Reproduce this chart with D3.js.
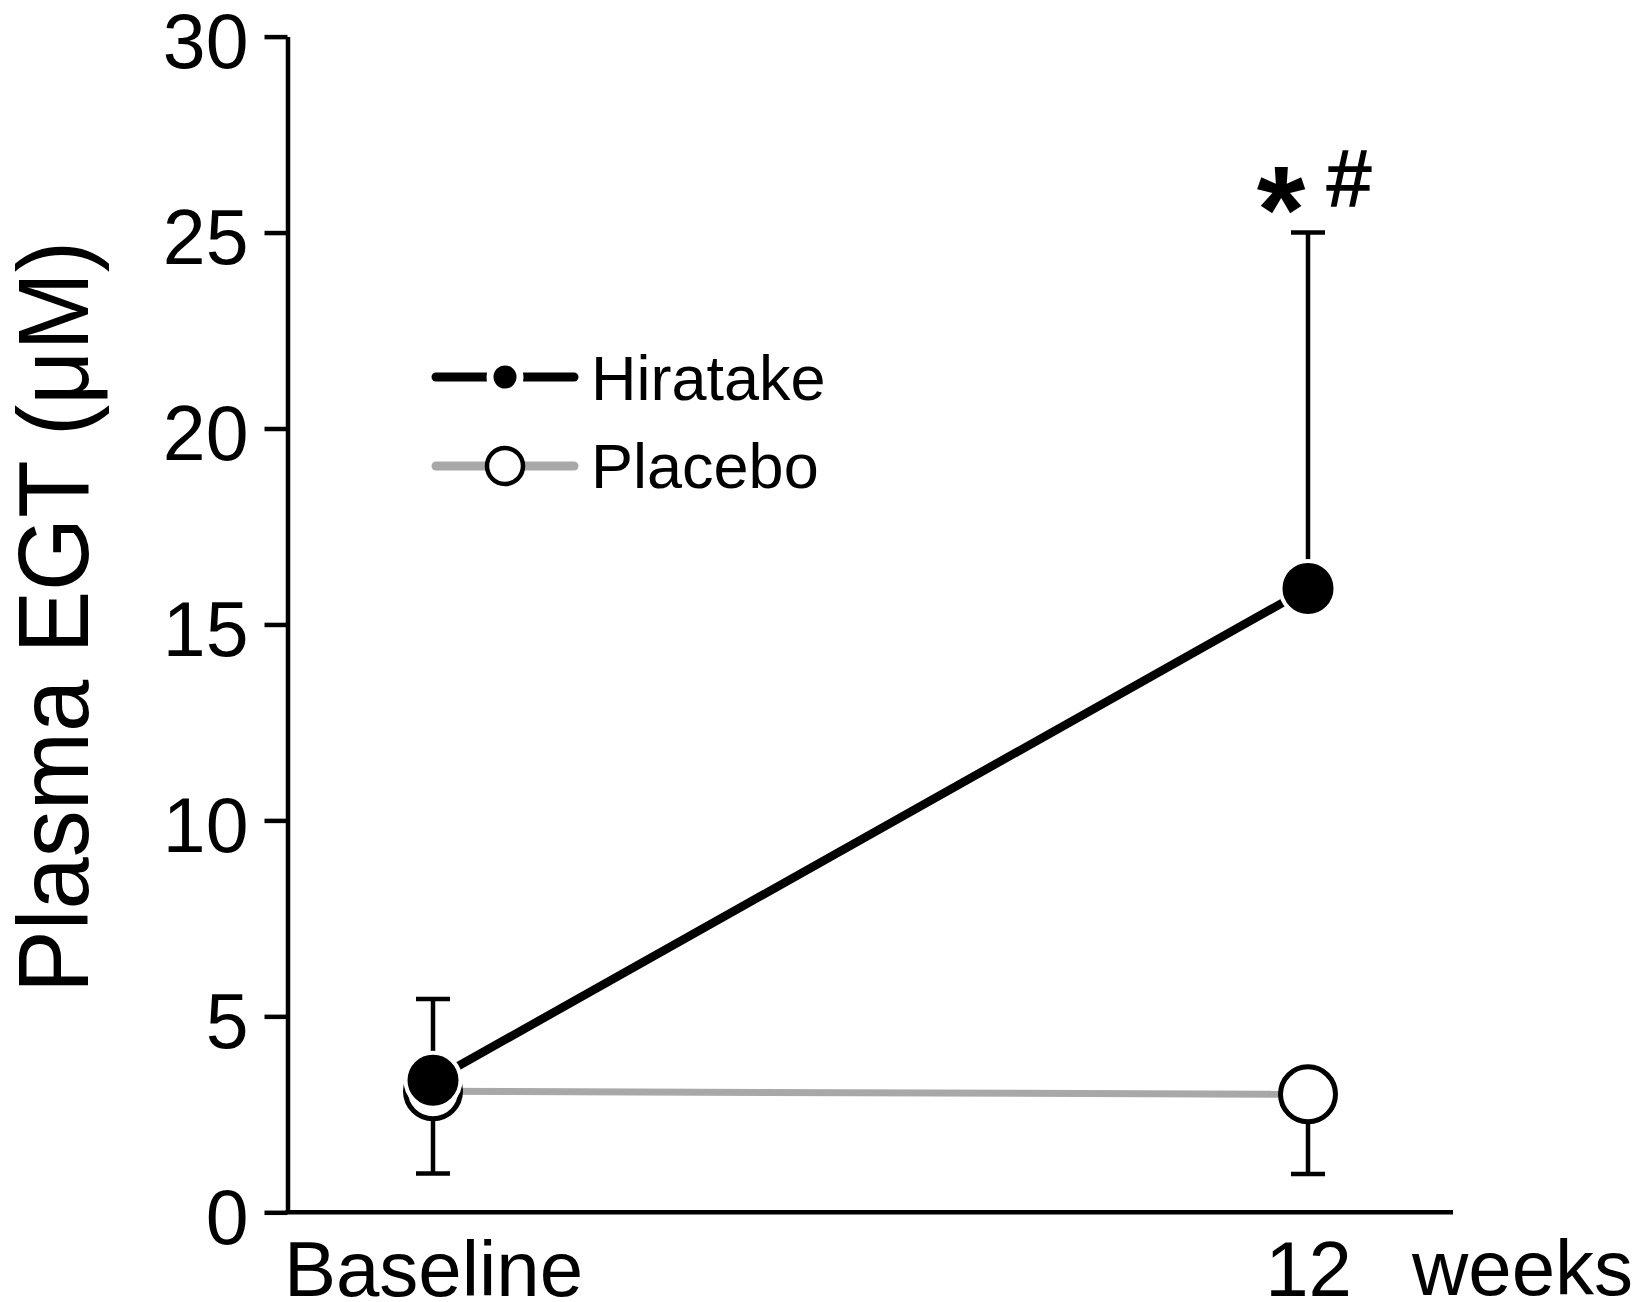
<!DOCTYPE html>
<html><head><meta charset="utf-8">
<script src="https://cdn.jsdelivr.net/npm/d3@7"></script>
<style>
html,body{margin:0;padding:0;background:#fff;}
svg{display:block;font-family:"Liberation Sans",Arial,Helvetica,sans-serif;}
</style></head>
<body>
<svg id="chart" width="1645" height="1302"></svg>
<script>
// ---- data ----
const categories = ["Baseline", "12"];
const yTicks = [0, 5, 10, 15, 20, 25, 30];
const seriesNames = ["Hiratake", "Placebo"];
const hiratakeMean = [3.37, 15.92];
const hiratakeUpperErr = [2.07, 9.08];   // drawn upward
const placeboMean = [3.09, 3.01];
const placeboLowerErr = [2.1, 2.03];     // drawn downward
const sigMarks = ["*", "#"];

// ---- layout ----
const svg = d3.select("#chart");
svg.append("rect").attr("width",1645).attr("height",1302).attr("fill","#fff");

const y = d3.scaleLinear().domain([0, 30]).range([1212.3, 36.6]);
const x = d3.scalePoint().domain(categories).range([433, 1308]);
const xAxisEnd = 1453;

// y axis
const yAxis = svg.append("g").attr("transform","translate(287.5,0)")
  .call(d3.axisLeft(y).tickValues(yTicks).tickSize(23).tickSizeOuter(0).tickPadding(16).tickFormat(d3.format("d")))
  .attr("font-size",77).attr("font-family","Liberation Sans, Arial, sans-serif");
yAxis.select(".domain").attr("stroke","#000").attr("stroke-width",4.5);
yAxis.selectAll(".tick line").attr("stroke","#000").attr("stroke-width",4.5);
yAxis.selectAll(".tick text").attr("fill","#000").attr("dy","0.4em");

// x axis
const xAxis = svg.append("g").attr("transform",`translate(0,${y(0)})`)
  .call(d3.axisBottom(x).tickSize(0).tickPadding(28))
  .attr("font-size",78).attr("font-family","Liberation Sans, Arial, sans-serif");
xAxis.select(".domain").remove();
xAxis.append("line").attr("x1",285.5).attr("x2",xAxisEnd).attr("y1",0).attr("y2",0).attr("stroke","#000").attr("stroke-width",4.5);
xAxis.selectAll(".tick text").attr("fill","#000");
svg.append("text").attr("x",1412).attr("y",1295).attr("font-size",78).attr("fill","#000").text("weeks");

// y label
svg.append("text")
  .attr("transform","translate(88,617) rotate(-90)")
  .attr("text-anchor","middle")
  .attr("font-size",101)
  .attr("textLength",752).attr("lengthAdjust","spacingAndGlyphs")
  .attr("fill","#000")
  .text("Plasma EGT (μM)");

// error bars
const capW = 34;
function errBar(cx, v1, v2){
  const g = svg.append("g").attr("stroke","#000").attr("stroke-width",4.5);
  g.append("line").attr("x1",cx).attr("x2",cx).attr("y1",y(v1)).attr("y2",y(v2));
  g.append("line").attr("x1",cx-capW/2).attr("x2",cx+capW/2).attr("y1",y(v2)).attr("y2",y(v2));
}
categories.forEach((c,i)=>{
  errBar(x(c), placeboMean[i], placeboMean[i]-placeboLowerErr[i]);
  errBar(x(c), hiratakeMean[i], hiratakeMean[i]+hiratakeUpperErr[i]);
});

// lines
const line = d3.line().x(d=>x(d.c)).y(d=>y(d.v));
const placeboData = categories.map((c,i)=>({c, v:placeboMean[i]}));
const hiratakeData = categories.map((c,i)=>({c, v:hiratakeMean[i]}));
svg.append("path").datum(placeboData).attr("d",line).attr("fill","none").attr("stroke","#a8a8a8").attr("stroke-width",7);
svg.append("path").datum(hiratakeData).attr("d",line).attr("fill","none").attr("stroke","#000").attr("stroke-width",8.5);

// markers
svg.selectAll(".pc").data(placeboData).enter().append("circle")
  .attr("cx",d=>x(d.c)).attr("cy",d=>y(d.v)).attr("r",27.5)
  .attr("fill","#fff").attr("stroke","#000").attr("stroke-width",5);
svg.selectAll(".hc").data(hiratakeData).enter().append("circle")
  .attr("cx",d=>x(d.c)).attr("cy",d=>y(d.v)).attr("r",27.5)
  .attr("fill","#000").attr("stroke","#fff").attr("stroke-width",4);

// significance marks
svg.append("text").attr("x",1281).attr("y",253).attr("text-anchor","middle")
  .attr("font-size",125).attr("font-weight","bold").attr("fill","#000").text(sigMarks[0]);
svg.append("text").attr("x",1349).attr("y",206).attr("text-anchor","middle")
  .attr("font-size",80).attr("fill","#000").attr("stroke","#000").attr("stroke-width",1.5).text(sigMarks[1]);

// legend
const lg = svg.append("g");
const legendRows = [
  {name: seriesNames[0], y: 377, color:"#000", w:9, fill:"#000", r:15, stroke:"#fff", sw:7, ty:400},
  {name: seriesNames[1], y: 466, color:"#a8a8a8", w:9, fill:"#fff", r:18, stroke:"#000", sw:4.5, ty:488}
];
legendRows.forEach(d=>{
  lg.append("line").attr("x1",436).attr("x2",574).attr("y1",d.y).attr("y2",d.y)
    .attr("stroke",d.color).attr("stroke-width",d.w).attr("stroke-linecap","round");
  lg.append("circle").attr("cx",505).attr("cy",d.y).attr("r",d.r)
    .attr("fill",d.fill).attr("stroke",d.stroke).attr("stroke-width",d.sw);
  lg.append("text").attr("x",591).attr("y",d.ty).attr("font-size",63).attr("fill","#000").text(d.name);
});
</script>
</body></html>
